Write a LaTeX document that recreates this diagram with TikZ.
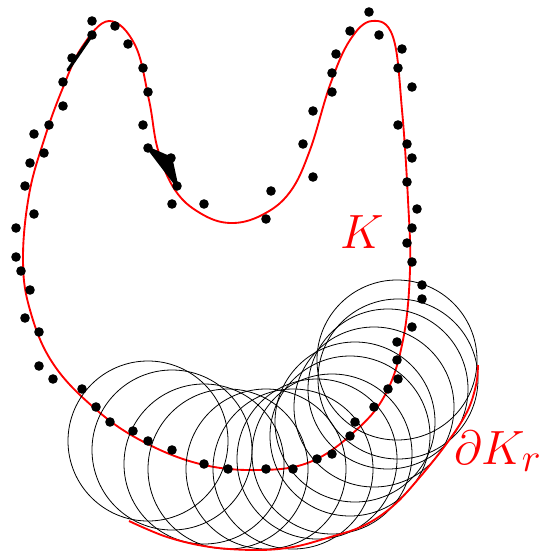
\documentclass[tikz,border=0pt]{standalone}
\usepackage{amssymb}
\usepackage{amsmath}
\usepackage{tikz}

\begin{document}
\begin{tikzpicture}[x=0.75pt, y=-0.75pt,
    pt/.style={fill=black},
    ball/.style={draw=black, line width=0.6pt},
    bnd/.style={draw=red, line width=1.4pt},
    lbl/.style={text=red, font=\Huge, scale=1.45}]
    \useasboundingbox (0,0) rectangle (542,553);
    % the set K
    \draw[bnd] plot[smooth cycle, tension=0.65] coordinates {
        (82,47) (109,21) (135,45) (149,100) (158,150) (175,190) (200,213)
        (230,223) (262,215) (290,192) (310,150) (330,85) (350,40) (372,21)
        (393,37) (402,110) (408,200) (410,270) (403,340) (385,395) (353,433)
        (310,462) (260,470) (200,464) (140,440) (92,406) (52,362) (30,310)
        (23,260) (29,195) (44,140) (62,90)};
    % balls of radius r round the lower points
    \foreach \c in {(148,441),(172,450),(204,464),(228,469),(266,469),(293,469),(317,459),
                    (332,454),(350,436),(355,422),(374,407),(388,389),(398,379),(397,360)}
        {\draw[ball] \c circle (80);}
    % lower part of the boundary of K_r
    \draw[bnd] plot[smooth, tension=0.6] coordinates {
        (129,521) (167,537) (210,547) (257,550) (293,547) (327,538) (363,526)
        (393,506) (420,477) (447,443) (467,412) (476,385) (478,365)};
    % sample points
    \draw[line width=2.4pt, line cap=round] (92,35) -- (68,70);
    \fill[line width=2pt, draw=black, line join=round] (148,148) -- (171,158) -- (177,186) -- cycle;
    \foreach \p in {(92,21),(115,26),(92,35),(128,44),(72,58),(143,68),(63,82),(148,92),(63,106),
                    (49,125),(143,125),(34,134),(44,153),(148,148),(171,158),(30,163),(177,186),
                    (25,186),(34,214),(172,204),(204,204),(271,191),(266,219),(16,228),(16,257),
                    (21,271),(369,12),(350,31),(379,35),(402,49),(336,54),(398,68),(332,73),
                    (412,87),(332,92),(313,111),(398,125),(303,144),(407,144),(412,158),(313,177),
                    (407,182),(417,209),(412,228),(407,243),(412,262),(30,290),(25,318),(39,332),
                    (39,366),(53,379),(82,389),(96,407),(110,422),(133,431),(422,285),(422,299),
                    (412,327),(397,342),(148,441),(172,450),(204,464),(228,469),(266,469),
                    (293,469),(317,459),(332,454),(350,436),(355,422),(374,407),(388,389),
                    (398,379),(397,360)}
        {\fill[pt] \p circle (4.8);}
    \node[lbl] (K) at (362,232) {$K$};
    \node[lbl] (dKr) at (498,451) {$\partial K_r$};
\end{tikzpicture}
\end{document}
